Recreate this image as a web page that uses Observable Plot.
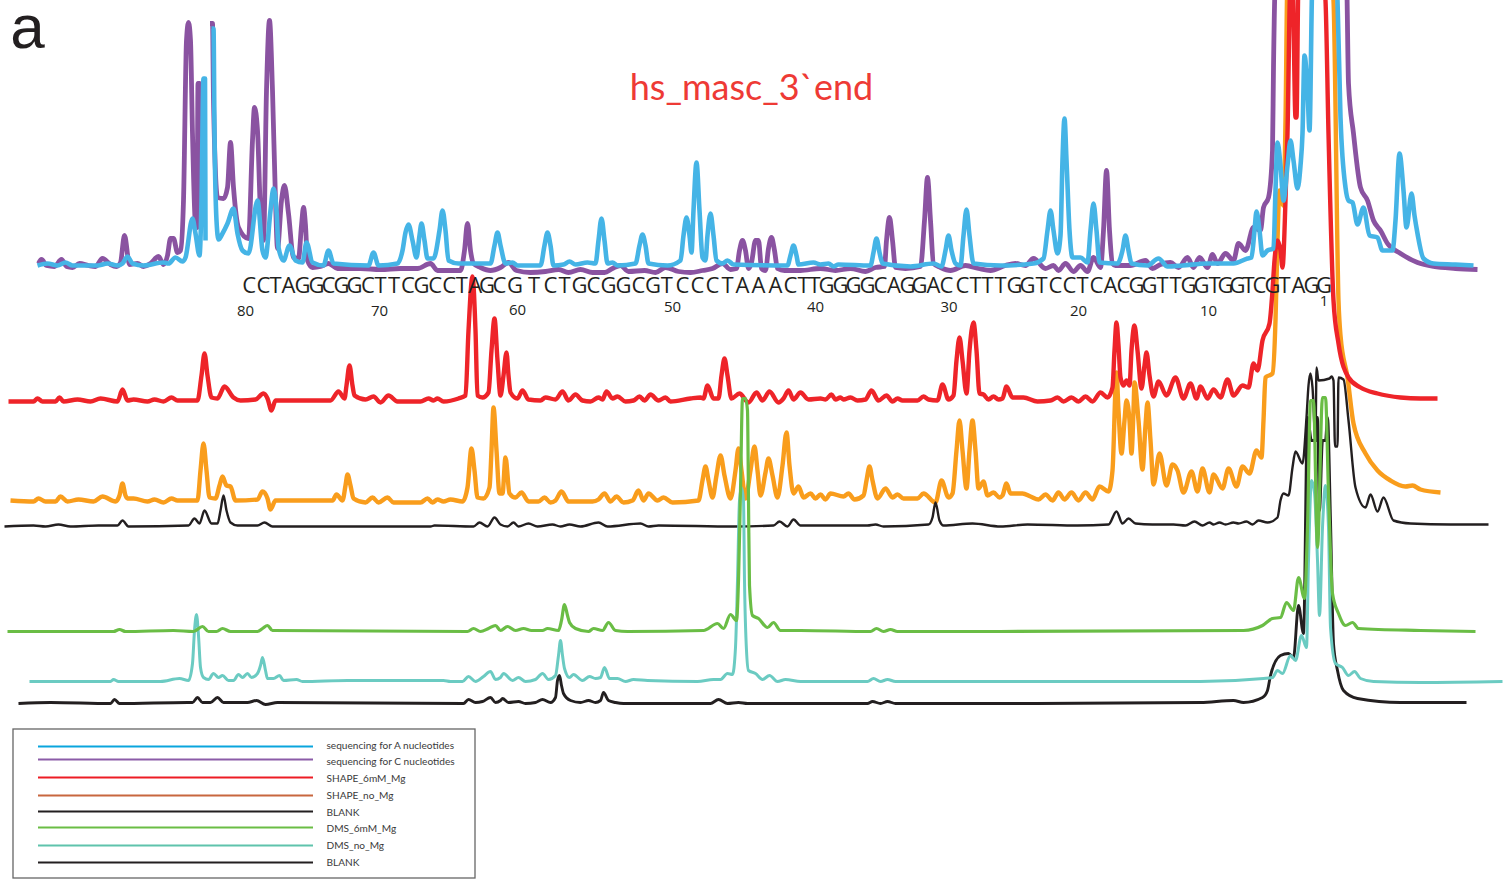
<!DOCTYPE html>
<html>
<head>
<meta charset="utf-8">
<script src="https://cdn.jsdelivr.net/npm/d3@7"></script>
<script src="https://cdn.jsdelivr.net/npm/@observablehq/plot@0.6"></script>
<style>html,body{margin:0;padding:0;background:#fff;overflow:hidden}</style>
</head>
<body>
<div id="chart"></div>
<script>
// Capillary electrophoresis traces: [position, level]
const seqC = [[38,263],[41,259],[46,265],[54,266],[61,259],[66,266],[72,267],[79,263],[88,265],[95,266],[102,258],[110,264],[116,266],[120,262],[124,235],[129,264],[137,263],[143,266],[150,263],[158,256],[163,264],[167,255],[170,238],[173,238],[177,252],[180,250],[183,200],[186,40],[188,22],[190,40],[192,133],[195,225],[196.5,227],[197.5,83],[199,83],[200.5,227],[202,228],[NaN,NaN],[209.5,23],[212,23],[213,100],[217,197],[223,198],[227,187],[230,142],[233,187],[238,227],[248,238],[252,140],[254,107],[257,130],[260,213],[263,240],[266,90],[269,20],[272,90],[275,200],[277,248],[281,200],[284,185],[288,213],[293,257],[298,258],[301,225],[303,207],[305,225],[307,260],[312,267],[320,266],[328,263],[337,268],[360,268],[380,269],[400,268],[417,268],[430,263],[437,270],[460,270],[464,250],[467,223],[470,250],[473,263],[480,267],[490,270],[500,267],[508,262],[516,270],[530,272],[545,271],[558,269],[568,272],[580,269],[592,272],[604,272],[612,268],[620,265],[628,271],[644,270],[655,272],[665,267],[678,271],[690,272],[702,270],[712,268],[722,263],[730,269],[736,268],[739,250],[742,240],[745,250],[748,268],[751,262],[755,240],[758,240],[761,268],[765,270],[768,248],[771,237],[774,250],[777,268],[784,270],[800,270],[820,268],[835,270],[850,268],[865,271],[875,267],[884,266],[886,240],[889,217],[892,240],[895,267],[905,268],[920,266],[924,220],[927,177],[930,220],[933,263],[940,267],[950,270],[965,265],[978,268],[990,270],[1005,265],[1015,263],[1025,265],[1033,258],[1045,268],[1053,265],[1058,270],[1065,263],[1073,271],[1080,265],[1087,271],[1093,257],[1100,267],[1103,230],[1106,170],[1109,230],[1112,263],[1115,265],[1130,265],[1145,260],[1152,268],[1160,264],[1170,262],[1178,267],[1187,257],[1193,267],[1199,257],[1207,267],[1212,254],[1217,263],[1225,253],[1233,260],[1238,243],[1245,250],[1253,227],[1260,230],[1263,207],[1268,197],[1272,150],[1273,67],[1275,-20],[1346,-20],[1348,83],[1353,133],[1360,187],[1367,200],[1373,220],[1380,230],[1387,243],[1400,253],[1417,262],[1433,266],[1455,268],[1477,269]];
const seqA = [[37,265],[47,263],[57,265],[65,262],[72,265],[97,265],[107,263],[117,265],[122,263],[127,256],[132,263],[143,265],[163,262],[168,263],[175,257],[182,261],[185,257],[192,218],[195,233],[199,255],[201,200],[203,78],[204.5,78],[205,240],[NaN,NaN],[211,28],[213,28],[214,133],[216,220],[218,239],[222,233],[227,223],[233,208],[237,233],[242,250],[248,253],[257,200],[262,250],[265,257],[270,210],[273,188],[276,210],[278,247],[283,260],[289,245],[295,260],[302,262],[306,242],[312,262],[323,265],[328,250],[333,263],[368,265],[373,252],[378,265],[397,263],[402,250],[405,232],[408,224],[412,240],[416,257],[419,235],[421,223],[424,240],[427,258],[433,258],[439,230],[442,210],[445,230],[448,260],[458,263],[490,263],[494,245],[497,232],[500,245],[505,263],[512,262],[517,265],[540,265],[544,245],[547,232],[550,245],[553,265],[563,264],[569,261],[575,264],[587,262],[595,263],[598,240],[601,218],[604,240],[607,263],[612,262],[617,265],[635,263],[639,245],[642,234],[645,245],[648,263],[667,265],[680,260],[683,235],[686,217],[689,235],[691,252],[693,210],[696,162],[699,210],[702,257],[705,260],[707,235],[710,213],[713,235],[716,260],[722,263],[727,260],[733,264],[787,265],[790,255],[793,245],[796,255],[798,264],[813,262],[820,264],[828,263],[833,266],[838,264],[870,265],[873,252],[876,238],[879,252],[882,263],[910,266],[933,263],[941,266],[945,250],[948,235],[951,250],[955,263],[960,265],[963,235],[966,209],[969,235],[973,263],[1000,265],[1033,263],[1043,258],[1047,230],[1050,210],[1053,230],[1057,253],[1060,235],[1062,160],[1064,118],[1066,160],[1069,230],[1072,257],[1080,257],[1087,262],[1090,230],[1093,203],[1096,230],[1099,262],[1117,263],[1122,250],[1125,235],[1128,250],[1131,263],[1147,265],[1158,258],[1167,266],[1182,265],[1207,263],[1233,263],[1247,258],[1251,257],[1254,230],[1256,211],[1259,230],[1262,255],[1267,250],[1273,248],[1275,190],[1277,142],[1280,165],[1283,200],[1287,165],[1290,140],[1293,160],[1297,188],[1300,165],[1302,133],[1304,55],[1307,90],[1309,130],[1312,-20],[1336,-20],[1337,0],[1340,117],[1345,187],[1348,200],[1352,202],[1357,224],[1363,207],[1369,235],[1377,237],[1382,250],[1392,250],[1395,220],[1399,153],[1403,190],[1406,227],[1411,193],[1414,215],[1417,233],[1423,258],[1433,263],[1455,264],[1473,265]];
const shape6 = [[8,401],[33,401],[37,398],[42,401],[55,401],[59,397],[63,401],[77,399],[90,401],[100,398],[117,401],[122,389],[127,400],[133,399],[147,401],[154,399],[163,401],[171,397],[177,400],[197,400],[201,375],[204,353],[207,375],[211,397],[217,398],[224,386],[233,397],[240,400],[255,399],[263,393],[267,398],[271,410],[275,400],[300,400],[330,400],[338,391],[344,398],[346,385],[349,365],[352,385],[354,395],[365,399],[373,396],[380,402],[388,395],[397,401],[420,401],[428,398],[433,400],[437,398],[443,401],[458,398],[465,395],[468,330],[472,276],[475,330],[477,395],[482,397],[488,392],[491,350],[494,318],[497,360],[500,395],[503,375],[506,352],[508,375],[510,392],[517,398],[522,390],[528,399],[540,400],[545,397],[555,399],[562,391],[568,400],[575,394],[582,400],[590,401],[598,397],[602,399],[606,391],[612,398],[617,396],[625,401],[633,400],[639,396],[644,400],[650,394],[658,400],[665,397],[670,401],[690,398],[700,397],[703,398],[707,385],[713,398],[718,398],[721,375],[724,358],[727,375],[731,398],[739,393],[748,402],[756,392],[762,400],[769,391],[778,402],[783,398],[788,390],[793,399],[800,392],[808,399],[820,398],[825,399],[831,394],[835,399],[840,397],[843,399],[850,397],[857,400],[865,399],[871,390],[878,400],[886,395],[892,401],[897,398],[902,400],[917,400],[923,396],[928,399],[937,400],[942,384],[948,399],[953,395],[956,360],[959,337],[962,360],[966,393],[969,350],[973,322],[976,350],[979,393],[983,394],[988,399],[993,396],[998,399],[1002,398],[1006,386],[1012,397],[1023,397],[1037,401],[1050,400],[1057,397],[1063,401],[1071,397],[1078,401],[1085,396],[1092,401],[1100,392],[1107,397],[1112,387],[1114,350],[1116,322],[1118,345],[1120,377],[1123,385],[1126,380],[1129,385],[1131,350],[1134,325],[1137,350],[1141,388],[1144,365],[1146,352],[1149,375],[1153,396],[1158,381],[1166,395],[1175,377],[1183,398],[1190,383],[1196,398],[1200,386],[1207,398],[1213,389],[1220,397],[1227,379],[1233,395],[1242,385],[1248,387],[1253,363],[1257,370],[1262,340],[1269,323],[1272,290],[1274,260],[1277,240],[1280,250],[1282,267],[1285,200],[1287,133],[1290,-20],[1292,-20],[1295,117],[1296,117],[1298,-20],[1323,-20],[1325,0],[1328,133],[1333,300],[1338,343],[1348,377],[1360,387],[1377,393],[1400,397],[1420,398],[1437,398]];
const shapeNo = [[10,500],[33,501],[38,498],[45,501],[55,501],[60,496],[67,501],[78,499],[93,501],[102,496],[115,501],[119,495],[122,483],[125,495],[127,498],[133,498],[147,501],[154,499],[163,502],[171,498],[177,500],[197,500],[200,470],[203,443],[206,470],[209,497],[215,498],[219,485],[222,476],[226,485],[230,486],[235,500],[257,499],[262,491],[267,498],[270,509],[275,500],[300,500],[332,500],[336,494],[342,500],[345,485],[347,474],[350,485],[353,498],[365,502],[372,497],[378,502],[387,497],[393,502],[420,502],[427,498],[432,502],[437,499],[443,501],[450,499],[462,501],[467,487],[471,448],[474,470],[477,497],[483,498],[489,487],[491,450],[493,407],[496,450],[499,493],[502,493],[505,457],[509,493],[515,497],[521,492],[528,501],[538,501],[544,497],[550,502],[555,500],[561,491],[568,501],[592,501],[598,499],[604,493],[610,501],[616,496],[623,502],[632,500],[638,490],[643,500],[648,493],[657,500],[663,497],[672,502],[698,500],[702,480],[705,466],[708,480],[712,497],[716,475],[720,455],[724,475],[730,498],[735,470],[738,448],[741,470],[745,498],[750,470],[754,446],[757,470],[760,495],[765,472],[768,458],[772,475],[777,497],[782,465],[786,432],[789,465],[793,493],[798,486],[803,497],[810,493],[815,498],[820,494],[825,499],[830,493],[843,496],[848,493],[854,499],[863,495],[866,480],[869,466],[872,480],[877,498],[885,488],[892,497],[897,494],[903,498],[917,498],[923,493],[935,502],[941,480],[948,497],[952,493],[956,450],[959,420],[962,450],[966,488],[969,450],[972,420],[975,450],[978,488],[983,481],[987,495],[993,492],[999,497],[1002,495],[1006,483],[1010,493],[1022,493],[1030,496],[1038,499],[1045,494],[1052,500],[1058,492],[1064,499],[1071,492],[1078,500],[1085,492],[1092,499],[1099,486],[1108,491],[1112,470],[1116,372],[1118,410],[1121,453],[1124,420],[1126,400],[1129,420],[1131,453],[1133,410],[1134,382],[1138,420],[1142,469],[1145,425],[1147,402],[1150,440],[1153,484],[1159,453],[1166,485],[1172,464],[1177,470],[1183,492],[1191,471],[1197,491],[1202,468],[1209,492],[1213,474],[1222,488],[1228,468],[1236,486],[1242,466],[1249,473],[1256,450],[1261,457],[1263,420],[1265,377],[1272,373],[1275,320],[1277,240],[1279,190],[1283,205],[1285,120],[1287,-20],[1331,-20],[1333,0],[1338,300],[1340,335],[1347,377],[1353,423],[1365,453],[1377,470],[1390,480],[1405,486],[1412,485],[1420,489],[1440,492]];
const blank1 = [[4,526],[33,525],[45,526],[58,524],[70,526],[98,525],[117,525],[122,520],[128,526],[188,525],[194,518],[199,523],[204,510],[211,523],[217,523],[220,510],[223,495],[226,510],[230,522],[237,525],[257,525],[264,522],[272,526],[430,526],[434,525],[473,526],[479,522],[487,526],[494,517],[500,524],[507,526],[513,522],[518,526],[528,523],[537,526],[552,524],[560,526],[569,524],[580,526],[598,522],[607,526],[640,523],[648,526],[658,525],[733,526],[773,525],[779,521],[787,526],[793,519],[800,525],[867,525],[875,524],[883,526],[928,524],[932,517],[935,502],[939,520],[943,525],[972,523],[1000,526],[1027,524],[1077,525],[1108,524],[1116,511],[1122,523],[1128,518],[1135,523],[1152,524],[1173,524],[1185,525],[1194,521],[1202,525],[1209,522],[1213,524],[1219,522],[1225,524],[1233,522],[1238,523],[1246,521],[1252,524],[1258,520],[1267,522],[1277,517],[1280,500],[1283,493],[1288,495],[1292,467],[1295,451],[1302,463],[1306,417],[1308,385],[1310,373],[1312,387],[1315,440],[1316,367],[1318,380],[1329,378],[1331,376],[1333,380],[1334.5,446],[1337,446],[1338,377],[1343,379],[1348,420],[1355,487],[1365,507],[1370,494],[1377,511],[1383,497],[1393,520],[1410,523],[1450,524],[1488,524]];
const dms6 = [[7,631],[113,631],[119,629],[125,631],[173,630],[193,631],[202,626],[208,631],[216,631],[222,628],[230,631],[257,631],[262,628],[267,625],[272,630],[467,631],[473,628],[480,631],[488,628],[495,625],[500,630],[507,626],[515,630],[523,628],[531,630],[542,630],[547,628],[558,630],[561,620],[564,604],[567,615],[569,622],[575,628],[588,631],[593,628],[602,630],[608,622],[615,630],[627,631],[703,630],[717,623],[723,628],[730,614],[736,620],[738,580],[740,490],[742,398],[745,398],[747,410],[748,500],[749,585],[752,615],[758,618],[767,627],[773,622],[780,630],[800,630],[870,631],[876,628],[883,631],[890,629],[897,631],[1000,631],[1243,630],[1262,625],[1272,618],[1280,617],[1286,602],[1293,610],[1298,577],[1304,598],[1307,527],[1310,400],[1313,400],[1317,547],[1322,397],[1325,397],[1328,493],[1332,593],[1338,613],[1345,625],[1352,622],[1358,628],[1420,630],[1475,631]];
const dmsNo = [[29,681],[110,681],[113,679],[118,681],[160,681],[179,678],[188,680],[192,663],[194,630],[196,614],[198,635],[200,667],[203,677],[208,679],[213,673],[218,677],[222,675],[228,680],[233,680],[238,674],[242,677],[247,673],[251,677],[257,673],[260,665],[262,657],[265,670],[267,678],[273,678],[279,675],[283,680],[296,679],[302,681],[347,680],[443,680],[450,681],[462,681],[468,676],[475,681],[483,676],[490,671],[495,679],[500,677],[503,673],[512,680],[518,677],[525,681],[535,679],[542,673],[548,679],[555,675],[558,655],[560,640],[562,655],[564,668],[569,677],[573,674],[582,680],[589,676],[595,678],[600,677],[604,667],[609,678],[617,678],[625,681],[633,679],[647,680],[697,681],[713,679],[720,679],[727,673],[732,674],[735,647],[737,580],[739,500],[741,487],[743,500],[744,580],[746,650],[748,670],[755,673],[762,679],[769,675],[777,681],[785,679],[800,681],[867,681],[873,678],[880,681],[887,679],[895,681],[1000,681],[1200,681],[1263,678],[1272,677],[1277,670],[1282,673],[1290,655],[1295,660],[1301,635],[1306,647],[1308,560],[1311,480],[1314,492],[1317,560],[1319,615],[1322,527],[1325,485],[1328,527],[1330,627],[1335,663],[1342,667],[1348,675],[1354,671],[1360,678],[1373,681],[1420,682],[1502,681]];
const blank2 = [[18,703],[50,702],[110,703],[114,699],[119,703],[187,702],[192,702],[197,697],[202,702],[210,702],[217,697],[223,702],[247,702],[256,700],[265,704],[277,702],[463,703],[468,699],[475,702],[482,701],[490,697],[495,702],[500,700],[502,698],[508,702],[518,701],[525,703],[535,702],[542,699],[550,702],[555,697],[557,680],[559,675],[561,685],[563,693],[570,700],[580,702],[588,700],[595,702],[600,700],[603,692],[608,700],[615,702],[623,703],[710,703],[718,699],[727,703],[738,702],[747,703],[867,703],[872,701],[880,703],[887,701],[895,703],[1000,703],[1200,702],[1233,700],[1243,702],[1262,697],[1267,690],[1270,675],[1280,655],[1288,653],[1293,657],[1298,605],[1303,633],[1307,417],[1311,440],[1316,440],[1317,417],[1319,510],[1322,440],[1325,440],[1327,417],[1330,520],[1333,643],[1337,670],[1343,690],[1357,698],[1400,702],[1466,702]];

const traces = [
  {data: shapeNo, color: "#F99D1C", width: 4.4},
  {data: shape6,  color: "#EE2429", width: 4.4},
  {data: blank1,  color: "#231F20", width: 2.4},
  {data: blank2,  color: "#231F20", width: 2.9},
  {data: dmsNo,   color: "#6BCBC2", width: 3},
  {data: dms6,    color: "#6ABD45", width: 3.2},
  {data: seqC,    color: "#8A53A1", width: 4.8},
  {data: seqA,    color: "#45B4E6", width: 4.6}
];

// Sequence letters and their positions
const seqLetters = "CCTAGGCGGCTTCGCCTAGCGTCTGCGGCGTCCCTAAACTTGGGGCAGGACCTTTGGTCCTCACGGTTGGTGGTCGTAGG".split("");
const seqX = [248.6,263,275,288,302,316,328,341,354,367.5,380,393.5,407.5,421,434.6,448.6,461.4,474.6,486.4,499,514.6,533.6,550,564,579,593,608,623,638,652.5,666.4,682,697,712,727,742,758,775,790,803,814,826,840,853,867,880,893.5,907,919,933,946,962,975,987,1000,1014,1027,1041,1055,1069,1082,1096,1110,1123,1136,1149,1162,1175,1188,1201,1214,1225,1237,1248,1259,1272,1284,1298,1311,1323.5];
const seqTable = seqLetters.map((s,i)=>({s,x:seqX[i]}));

const indexLabels = ["80","70","60","50","40","30","20","10","1"];
const indexX = [245,379,517,672,815,948.6,1078,1208,1323.6];
const indexY = [310.5,310.5,310,306.5,306.5,306.5,310.5,310.5,301];
const indexTable = indexLabels.map((s,i)=>({s,x:indexX[i],y:indexY[i]}));

// Legend
const legendLabels = ["sequencing for A nucleotides","sequencing for C nucleotides","SHAPE_6mM_Mg","SHAPE_no_Mg","BLANK","DMS_6mM_Mg","DMS_no_Mg","BLANK"];
const legendColors = ["#0AA5DD","#8B5CA8","#ED1C24","#C8673F","#231F20","#6ABD45","#5FC3AC","#231F20"];
const legendY = [746,759,777,795,811,827,845,862];
const legendTextY = [745.5,761.5,778.5,795.5,812.5,828.5,845.5,862.5];
const legendTable = legendLabels.map((s,i)=>({s,c:legendColors[i],y:legendY[i],ty:legendTextY[i]}));

const lineMarks = traces.map(t => Plot.line(t.data, {
  x: d => d[0], y: d => d[1], stroke: t.color, strokeWidth: t.width,
  curve: "monotone-x", strokeLinejoin: "round", strokeLinecap: "butt"
}));

const chart = Plot.plot({
  width: 1512, height: 879,
  marginTop: 0, marginRight: 0, marginBottom: 0, marginLeft: 0,
  x: {axis: null, domain: [0, 1512], range: [0, 1512]},
  y: {axis: null, domain: [0, 879], range: [0, 879]},
  style: {background: "#fff"},
  marks: [
    ...lineMarks,
    Plot.text(seqTable, {x:"x", y:()=>285.5, text:"s", fontSize:22, fontFamily:"Open Sans", fill:"#231F20"}),
    Plot.text(indexTable, {x:"x", y:"y", text:"s", fontSize:15, fontFamily:"Open Sans", fill:"#231F20"}),
    Plot.text(["a"], {x:()=>27, y:()=>28, text:d=>d, fontSize:62, fontFamily:"Liberation Sans", fill:"#231F20"}),
    Plot.text(["hs_masc_3`end"], {x:()=>751, y:()=>88, text:d=>d, fontSize:36, fontFamily:"Lato", fill:"#EE3A35"}),
    Plot.rect([{x1:13,x2:475,y1:729,y2:878}], {x1:"x1",x2:"x2",y1:"y1",y2:"y2", fill:"none", stroke:"#666", strokeWidth:1.3}),
    Plot.ruleY(legendTable, {y:"y", x1:()=>38, x2:()=>313, stroke:"c", strokeWidth:2}),
    Plot.text(legendTable, {x:()=>326, y:"ty", text:"s", textAnchor:"start", fontSize:10.1, fontFamily:"Lato", fill:"#3a3a3a"})
  ]
});
document.getElementById("chart").appendChild(chart);
</script>
</body>
</html>
